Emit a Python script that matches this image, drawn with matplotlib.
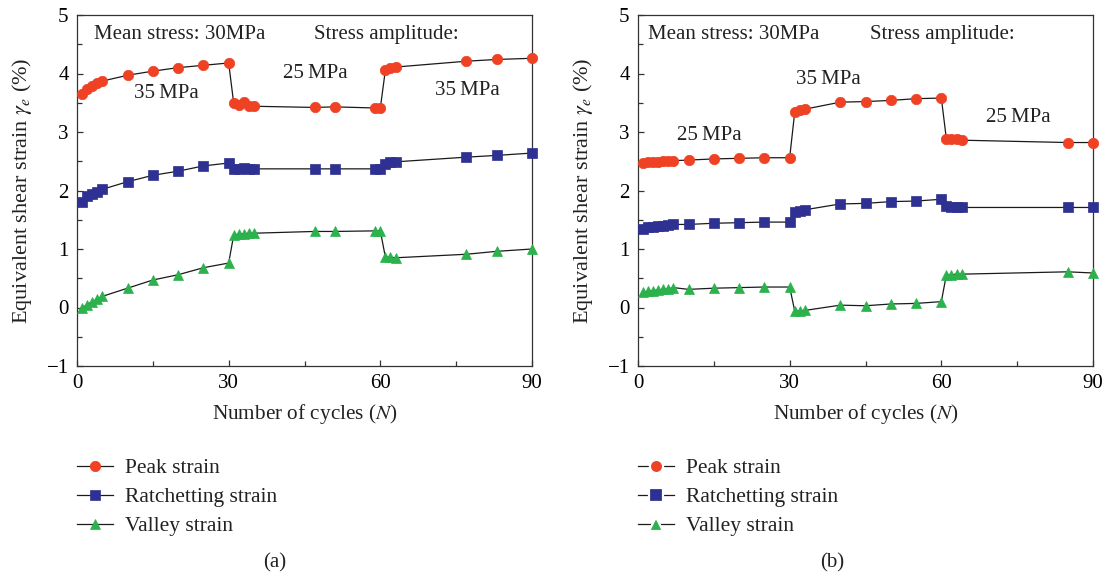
import numpy as np
import matplotlib
matplotlib.use("Agg")
import matplotlib.pyplot as plt
from matplotlib.ticker import MultipleLocator
from matplotlib.lines import Line2D

plt.rcParams['font.family'] = ['Liberation Serif', 'DejaVu Serif']
plt.rcParams['mathtext.fontset'] = 'stix'

# ---- (a) 35 -> 25 -> 35 MPa ----
cyc_a = [1, 2, 3, 4, 5, 10, 15, 20, 25, 30, 31, 32, 33, 34, 35, 47, 51, 59, 60,
         61, 62, 63, 77, 83, 90]
peak_a = [3.65, 3.74, 3.78, 3.83, 3.87, 3.97, 4.04, 4.10, 4.14, 4.18,
          3.49, 3.47, 3.51, 3.45, 3.44, 3.42, 3.43, 3.41, 3.41,
          4.06, 4.09, 4.11, 4.21, 4.24, 4.26]
ratch_a = [1.81, 1.90, 1.94, 1.98, 2.02, 2.15, 2.26, 2.33, 2.42, 2.47,
           2.37, 2.36, 2.38, 2.37, 2.37, 2.37, 2.37, 2.37, 2.37,
           2.46, 2.49, 2.49, 2.57, 2.60, 2.64]
valley_a = [-0.01, 0.05, 0.10, 0.14, 0.19, 0.33, 0.47, 0.56, 0.68, 0.76,
            1.24, 1.25, 1.26, 1.27, 1.27, 1.30, 1.30, 1.31, 1.31,
            0.86, 0.86, 0.85, 0.91, 0.96, 1.00]

# ---- (b) 25 -> 35 -> 25 MPa ----
cyc_b = [1, 2, 3, 4, 5, 6, 7, 10, 15, 20, 25, 30, 31, 32, 33, 40, 45, 50, 55, 60,
         61, 62, 63, 64, 85, 90]
peak_b = [2.47, 2.48, 2.49, 2.49, 2.50, 2.50, 2.51, 2.52, 2.54, 2.55, 2.56, 2.56,
          3.34, 3.37, 3.39, 3.51, 3.52, 3.54, 3.57, 3.58,
          2.88, 2.88, 2.88, 2.86, 2.82, 2.82]
ratch_b = [1.35, 1.37, 1.38, 1.39, 1.40, 1.41, 1.42, 1.42, 1.44, 1.45, 1.46, 1.46,
           1.64, 1.65, 1.67, 1.77, 1.78, 1.81, 1.82, 1.85,
           1.73, 1.71, 1.71, 1.71, 1.71, 1.71]
valley_b = [0.26, 0.28, 0.29, 0.30, 0.31, 0.32, 0.34, 0.31, 0.33, 0.34, 0.35, 0.35,
            -0.06, -0.06, -0.05, 0.04, 0.03, 0.06, 0.07, 0.10,
            0.56, 0.56, 0.57, 0.57, 0.61, 0.59]

labels = ["Peak strain", "Ratchetting strain", "Valley strain"]
colors = ["#ef4123", "#2e3192", "#2bb24c"]
markers = ["o", "s", "^"]

# annotation text: (x, y, string) in data coords
notes_a = [(3.4, 4.67, "Mean stress: 30MPa"), (46.9, 4.67, "Stress amplitude:"),
           (11.3, 3.65, "35\u2009MPa"), (40.7, 4.00, "25\u2009MPa"),
           (70.8, 3.71, "35\u2009MPa")]
notes_b = [(2.0, 4.67, "Mean stress: 30MPa"), (45.9, 4.67, "Stress amplitude:"),
           (7.8, 2.94, "25\u2009MPa"), (31.2, 3.89, "35\u2009MPa"),
           (68.8, 3.24, "25\u2009MPa")]

W, H = 1105, 576
fig = plt.figure(figsize=(W / 100, H / 100), dpi=100)

def make_panel(left, cyc, series, notes, tag, tag_x, gap_legend):
    ax = fig.add_axes([left / W, 1 - 366 / H, 455 / W, 351 / H])
    for ys, c, m in zip(series, colors, markers):
        ax.plot(cyc, ys, color="#1a1a1a", lw=0.9, marker=m, ms=7.5,
                mfc=c, mec=c, mew=0.5, clip_on=False, zorder=3)
    ax.set_xlim(0, 90)
    ax.set_ylim(-1, 5)
    ax.xaxis.set_major_locator(MultipleLocator(30))
    ax.xaxis.set_minor_locator(MultipleLocator(15))
    ax.yaxis.set_major_locator(MultipleLocator(1))
    ax.yaxis.set_minor_locator(MultipleLocator(0.5))
    ax.tick_params(which="both", direction="in", top=False, right=False,
                   labelsize=15, color="#333333", width=0.9)
    ax.tick_params(which="major", length=4.5, pad=6)
    ax.tick_params(which="minor", length=3.5)
    ax.set_yticks(range(-1, 6))
    ax.set_yticklabels(["\u22121", "0", "1", "2", "3", "4", "5"])
    for s in ax.spines.values():
        s.set_linewidth(0.9)
        s.set_color("#333333")
    ax.set_xlabel("Number of cycles ($N$)", fontsize=15.3, labelpad=6,
                  color="#222222")
    ax.set_ylabel(r"Equivalent shear strain $\gamma_e$ (%)", fontsize=16,
                  labelpad=9, color="#222222")
    for x, y, t in notes:
        ax.text(x, y, t, fontsize=15, va="center", ha="left", color="#222222")

    # legend: panel (b) keeps a small white gap between marker and line
    handles = []
    for c, m in zip(colors, markers):
        if gap_legend:
            h = Line2D([], [], color="#1a1a1a", lw=0.9, marker=m,
                       ms=10.5 if m == "^" else 9.5,
                       mfc=c, mec="white", mew=1.6)
        else:
            h = Line2D([], [], color="#1a1a1a", lw=0.9, marker=m, ms=7.5,
                       mfc=c, mec=c, mew=0.5)
        handles.append(h)
    ax.legend(handles, labels, loc="upper left",
              bbox_to_anchor=(left / W, 1 - 458 / H),
              bbox_transform=fig.transFigure, frameon=False, fontsize=15.5,
              handlelength=1.65, handletextpad=0.6, labelspacing=0.42,
              borderaxespad=0, borderpad=0, labelcolor="#222222")
    fig.text(tag_x / W, 1 - 563 / H, tag, fontsize=15, ha="center",
             va="center", color="#222222")
    return ax

make_panel(77, cyc_a, [peak_a, ratch_a, valley_a], notes_a, "(a)", 275, False)
make_panel(638, cyc_b, [peak_b, ratch_b, valley_b], notes_b, "(b)", 832, True)

fig.savefig("out.png", dpi=100)
